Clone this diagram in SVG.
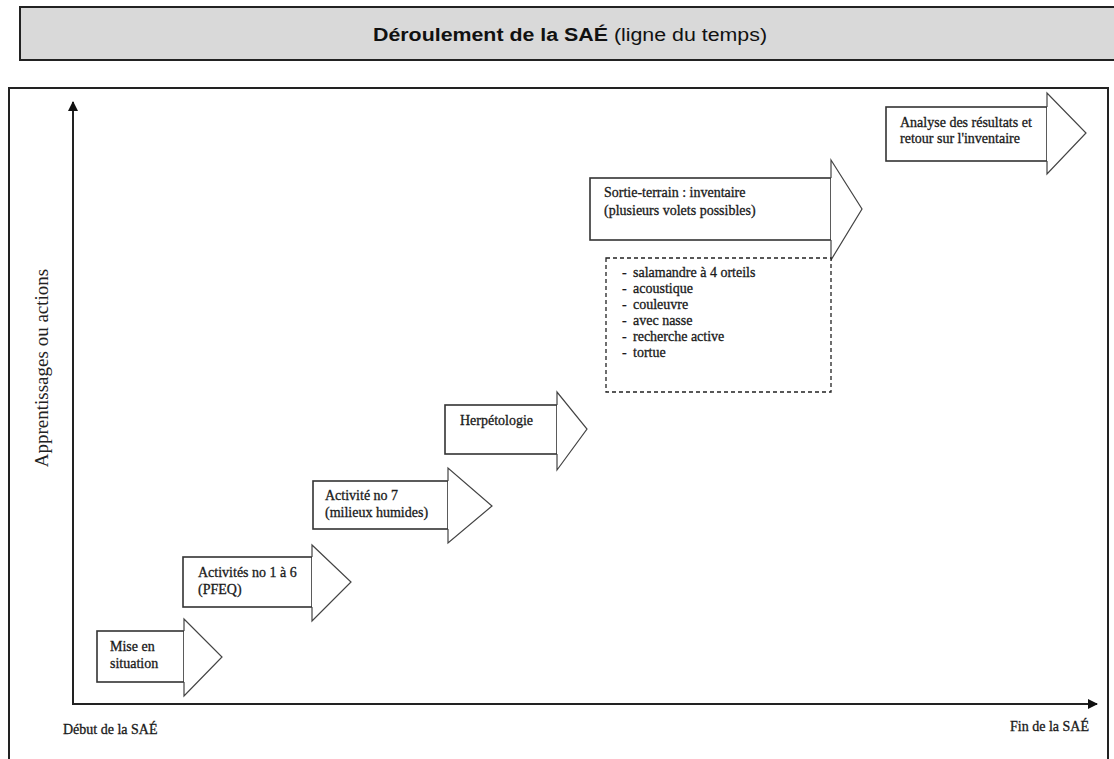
<svg xmlns="http://www.w3.org/2000/svg" width="1114" height="759" viewBox="0 0 1114 759">
<style>
.lbl{font-family:"Liberation Serif","Times New Roman",serif;font-size:14px;fill:#1a1a1a;stroke:#1a1a1a;stroke-width:0.3}
.body{fill:#fff;stroke:#333;stroke-width:1.6}
.head{fill:#fff;stroke:#444;stroke-width:1.2;stroke-linejoin:miter}
.axis{stroke:#222;stroke-width:2;fill:none}
</style>
<defs>
<marker id="ah" viewBox="0 0 10 10" refX="9" refY="5" markerWidth="5" markerHeight="5" orient="auto" markerUnits="strokeWidth">
<path d="M0,0 L10,5 L0,10 z" fill="#111"/>
</marker>
</defs>
<rect width="1114" height="759" fill="#fff"/>
<g id="title">
<rect x="20" y="7" width="1100" height="53" fill="#d9d9d9" stroke="#222" stroke-width="2"/>
<text x="570" y="41" text-anchor="middle" font-family="'Liberation Sans',Arial,sans-serif" font-size="18" fill="#111" textLength="394" lengthAdjust="spacingAndGlyphs"><tspan font-weight="bold">Déroulement de la SAÉ</tspan> (ligne du temps)</text>
</g>
<g id="frame">
<rect x="9" y="88" width="1099" height="700" fill="none" stroke="#222" stroke-width="2"/>
</g>
<g id="connectors">
<line class="axis" x1="73" y1="705" x2="73" y2="102" marker-end="url(#ah)"/>
<line class="axis" x1="72" y1="704" x2="1097" y2="704" marker-end="url(#ah)"/>
</g>
<g id="axis-labels">
<text transform="translate(48,368) rotate(-90)" text-anchor="middle" font-family="'Liberation Serif','Times New Roman',serif" font-size="19" fill="#222">Apprentissages ou actions</text>
<text class="lbl" x="63" y="734">Début de la SAÉ</text>
<text class="lbl" x="1089" y="731" text-anchor="end">Fin de la SAÉ</text>
</g>
<g id="node-mise">
<rect class="body" x="97" y="631" width="87" height="51"/>
<polyline class="head" points="184,631 184,619 222,657 184,696 184,682"/>
<text class="lbl" x="110" y="651">Mise en</text>
<text class="lbl" x="110" y="668">situation</text>
</g>
<g id="node-activites">
<rect class="body" x="183" y="557" width="129" height="50"/>
<polyline class="head" points="312,557 312,545 351,582 312,621 312,607"/>
<text class="lbl" x="198" y="577">Activités no 1 à 6</text>
<text class="lbl" x="198" y="594">(PFEQ)</text>
</g>
<g id="node-activite7">
<rect class="body" x="313" y="481" width="135" height="48"/>
<polyline class="head" points="448,481 448,468 492,506 448,543 448,529"/>
<text class="lbl" x="325" y="500">Activité no 7</text>
<text class="lbl" x="325" y="517">(milieux humides)</text>
</g>
<g id="node-herpetologie">
<rect class="body" x="445" y="405" width="112" height="49"/>
<polyline class="head" points="557,405 557,392 587,429 557,470 557,454"/>
<text class="lbl" x="460" y="425">Herpétologie</text>
</g>
<g id="node-sortie">
<rect class="body" x="590" y="178" width="241" height="62"/>
<polyline class="head" points="831,178 831,160 862,209 831,260 831,240"/>
<text class="lbl" x="604" y="197">Sortie-terrain : inventaire</text>
<text class="lbl" x="604" y="215">(plusieurs volets possibles)</text>
</g>
<g id="node-volets">
<rect x="606" y="258" width="225" height="134" fill="#fff" stroke="#222" stroke-width="1.3" stroke-dasharray="4,3"/>
<text class="lbl" x="622" y="277">-</text><text class="lbl" x="633" y="277">salamandre à 4 orteils</text>
<text class="lbl" x="622" y="293">-</text><text class="lbl" x="633" y="293">acoustique</text>
<text class="lbl" x="622" y="309">-</text><text class="lbl" x="633" y="309">couleuvre</text>
<text class="lbl" x="622" y="325">-</text><text class="lbl" x="633" y="325">avec nasse</text>
<text class="lbl" x="622" y="341">-</text><text class="lbl" x="633" y="341">recherche active</text>
<text class="lbl" x="622" y="357">-</text><text class="lbl" x="633" y="357">tortue</text>
</g>
<g id="node-analyse">
<rect class="body" x="886" y="107" width="161" height="54"/>
<polyline class="head" points="1047,107 1047,93 1086,133 1047,174 1047,161"/>
<text class="lbl" x="900" y="127">Analyse des résultats et</text>
<text class="lbl" x="900" y="143">retour sur l'inventaire</text>
</g>
</svg>
